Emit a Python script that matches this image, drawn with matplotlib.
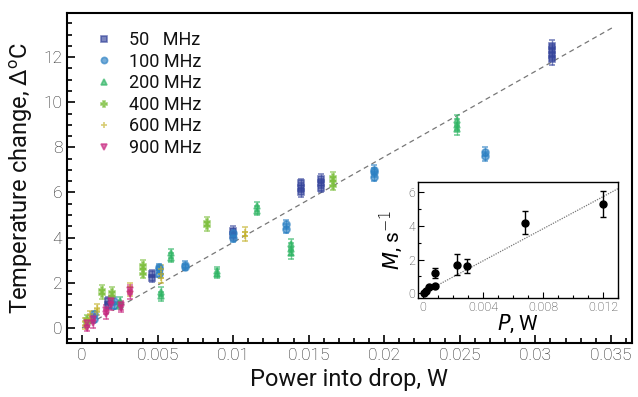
import numpy as np
import matplotlib.pyplot as plt
from matplotlib.ticker import MultipleLocator

plt.rcParams['font.family'] = ['Roboto', 'DejaVu Sans']
plt.rcParams['font.weight'] = 'light'

# main plot: each cluster = repeated measurements at one power
labels = ['50   MHz', '100 MHz', '200 MHz', '400 MHz', '600 MHz', '900 MHz']
colors = ['#35449b', '#2b80c3', '#2fb564', '#7dbf3e', '#c4b22c', '#c82880']
markers = ['s', 'o', '^', 'P', '+', 'v']

x_50 = [0.0311, 0.0145, 0.0158, 0.0100, 0.0046, 0.0017]
y_50 = [[11.9, 12.1, 12.3, 12.5], [6.0, 6.2, 6.4], [6.2, 6.4, 6.6], [4.1, 4.3], [2.2, 2.4], [1.0, 1.2]]
e_50 = [0.25, 0.2, 0.2, 0.2, 0.15, 0.15]

x_100 = [0.0267, 0.0193, 0.0135, 0.0100, 0.0051, 0.0068, 0.0021, 0.0008]
y_100 = [[7.6, 7.8], [6.7, 6.9, 7.0], [4.4, 4.6], [4.0, 4.2], [2.4, 2.6, 2.7], [2.7, 2.8], [1.0, 1.2], [0.4, 0.6]]
e_100 = [0.2, 0.2, 0.2, 0.2, 0.15, 0.15, 0.15, 0.15]

x_200 = [0.0248, 0.0138, 0.0089, 0.0059, 0.0052, 0.01157, 0.0025]
y_200 = [[8.8, 9.0, 9.2], [3.3, 3.5, 3.7], [2.4, 2.5], [3.1, 3.3], [1.4, 1.6], [5.2, 5.4], [1.0, 1.2]]
e_200 = [0.25, 0.25, 0.2, 0.2, 0.2, 0.2, 0.15]

x_400 = [0.0166, 0.0083, 0.0040, 0.0013, 0.0020, 0.0003]
y_400 = [[6.3, 6.5, 6.7], [4.5, 4.7], [2.4, 2.6, 2.8], [1.5, 1.7], [1.4, 1.6], [0.2, 0.4]]
e_400 = [0.2, 0.2, 0.2, 0.2, 0.2, 0.15]

x_600 = [0.0108, 0.0052, 0.0032, 0.0010, 0.0005, 0.0002]
y_600 = [[4.05, 4.25], [2.2, 2.4, 2.6], [1.6, 1.8], [0.7, 0.9], [0.4, 0.6], [0.1, 0.3]]
e_600 = [0.2, 0.2, 0.2, 0.15, 0.15, 0.15]

x_900 = [0.0032, 0.0026, 0.0019, 0.0016, 0.0007, 0.0003]
y_900 = [[1.5, 1.7], [0.9, 1.0], [1.0, 1.2], [0.6, 0.8], [0.2, 0.4], [0.0, 0.2]]
e_900 = [0.2, 0.2, 0.2, 0.2, 0.2, 0.15]

series_x = [x_50, x_100, x_200, x_400, x_600, x_900]
series_y = [y_50, y_100, y_200, y_400, y_600, y_900]
series_e = [e_50, e_100, e_200, e_400, e_600, e_900]

fit_x = [0.0, 0.0351]
fit_slope = 379.0

# inset data
P = [0.0001, 0.0002, 0.00042, 0.0008, 0.0008, 0.00225, 0.00291, 0.0068, 0.01202]
M = [0.03, 0.12, 0.34, 0.43, 1.17, 1.70, 1.62, 4.20, 5.32]
M_err = [0, 0, 0, 0, 0.3, 0.65, 0.4, 0.67, 0.77]
inset_fit_x = [0.0, 0.013]
inset_slope = 478.0

fig = plt.figure(figsize=(6.38, 3.97), dpi=100)
ax = fig.add_axes([0.105, 0.136, 0.8856, 0.831])

for xs, ys, es, c, m, lab in zip(series_x, series_y, series_e, colors, markers, labels):
    first = True
    for xv, yl, ev in zip(xs, ys, es):
        for yv in yl:
            ax.errorbar(xv, yv, yerr=ev, fmt=m, color=c, ms=5, mew=1.2, alpha=0.65,
                        elinewidth=1, capsize=2.5, label=lab if first else None)
            first = False

ax.plot(fit_x, [fit_slope * v for v in fit_x], ls=(0, (4, 3)), color='#777777', lw=0.9, zorder=0)

ax.set_xlim(-0.001, 0.0364)
ax.set_ylim(-0.67, 13.95)
ax.xaxis.set_minor_locator(MultipleLocator(0.001))
ax.yaxis.set_minor_locator(MultipleLocator(0.5))
ax.set_yticks([0, 2, 4, 6, 8, 10, 12])
ax.set_xticks([0, 0.005, 0.01, 0.015, 0.02, 0.025, 0.03, 0.035])
ax.set_xticklabels(['0', '0.005', '0.01', '0.015', '0.02', '0.025', '0.03', '0.035'])
ax.tick_params(which='both', direction='in', labelsize=12.5, labelcolor='#222222', width=1.2)
ax.tick_params(which='major', length=6)
ax.tick_params(which='minor', length=3.5)
for s in ax.spines.values():
    s.set_linewidth(1.5)
ax.set_xlabel('Power into drop, W', fontsize=17, labelpad=4, color='#111111')
ax.set_ylabel('Temperature change, Δ$\\mathregular{^o}$C', fontsize=17, labelpad=6, color='#111111')

handles, labs = ax.get_legend_handles_labels()
hs = [h[0] for h in handles]
leg = ax.legend(hs, labs, loc='upper left', bbox_to_anchor=(0.02, 0.995), frameon=False,
                fontsize=13, handlelength=1.0, handletextpad=0.9, labelspacing=0.2,
                markerscale=0.9)
for t in leg.get_texts():
    t.set_color('#111111')
    t.set_fontweight('normal')

# inset
axi = fig.add_axes([0.655, 0.249, 0.3135, 0.292])
axi.errorbar(P, M, yerr=M_err, fmt='o', color='black', ms=5, elinewidth=1, capsize=2.5)
axi.plot(inset_fit_x, [inset_slope * v for v in inset_fit_x], ls=(0, (1, 1)), color='#777777', lw=0.9, zorder=0)
axi.set_xlim(-0.00033, 0.0130)
axi.set_ylim(-0.3, 6.6)
axi.set_xticks([0, 0.004, 0.008, 0.012])
axi.set_xticklabels(['0', '0.004', '0.008', '0.012'])
axi.xaxis.set_minor_locator(MultipleLocator(0.001))
axi.yaxis.set_major_locator(MultipleLocator(2))
axi.yaxis.set_minor_locator(MultipleLocator(1))
axi.tick_params(which='both', direction='in', labelsize=9, labelcolor='#333333', width=0.8, pad=2)
axi.tick_params(which='major', length=4)
axi.tick_params(which='minor', length=2)
for s in axi.spines.values():
    s.set_linewidth(1.0)
axi.set_xlabel('$\\it{P}$, W', fontsize=15, labelpad=-1)
axi.set_ylabel('$\\it{M}$, s$^{-1}$', fontsize=15, labelpad=2)

fig.savefig('out.png', dpi=100)
